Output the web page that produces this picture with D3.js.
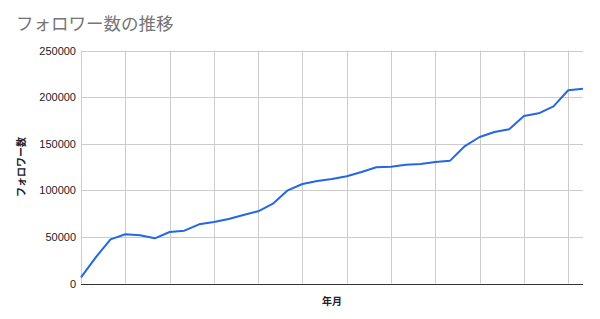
<!DOCTYPE html>
<html>
<head>
<meta charset="utf-8">
<script src="https://cdn.jsdelivr.net/npm/d3@7"></script>
<style>
  body { margin: 0; background: #fff; }
  text { font-family: Arial, "Liberation Sans", "Noto Sans CJK JP", sans-serif; }
</style>
</head>
<body>
<svg width="600" height="319"></svg>
<script>
// follower counts, one point per month (the month labels are hidden in the chart)
var followers = [6500, 28100, 47400, 52800, 51700, 48500, 55300, 56700, 63500, 66000,
    69200, 73500, 77500, 85600, 100000, 106800, 110000, 112100, 115000, 119600,
    124700, 125300, 127500, 128200, 130400, 131800, 147500, 157200, 162500, 165400,
    179700, 182600, 190100, 207300, 209000];
var yTicks = [0, 50000, 100000, 150000, 200000, 250000];
var title = "フォロワー数の推移";
var yTitle = "フォロワー数";
var xTitle = "年月";

var svg = d3.select("svg"),
    margin = { left: 81, right: 17, top: 50.5, bottom: 35.5 },
    width = +svg.attr("width"),
    height = +svg.attr("height");

var x = d3.scaleLinear()
    .domain([0, followers.length - 1])
    .range([margin.left, width - margin.right]);

var y = d3.scaleLinear()
    .domain([0, 250000])
    .range([height - margin.bottom, margin.top]);

svg.append("text")
    .attr("x", 16).attr("y", 30)
    .attr("font-size", 17.5)
    .attr("fill", "#757575")
    .text(title);

// horizontal grid
svg.append("g")
    .selectAll("line")
    .data(yTicks)
    .enter().append("line")
    .attr("x1", margin.left).attr("x2", width - margin.right)
    .attr("y1", function (d) { return Math.round(y(d)) + 0.5; })
    .attr("y2", function (d) { return Math.round(y(d)) + 0.5; })
    .attr("stroke", "#cccccc");

// vertical grid, every third month
var vGrid = d3.range(0, followers.length, 3);
svg.append("g")
    .selectAll("line")
    .data(vGrid)
    .enter().append("line")
    .attr("x1", function (d) { return Math.round(x(d)) + 0.5; })
    .attr("x2", function (d) { return Math.round(x(d)) + 0.5; })
    .attr("y1", y(250000)).attr("y2", y(0))
    .attr("stroke", "#cccccc");

var yAxis = svg.append("g")
    .attr("transform", "translate(" + (margin.left - 5) + ",0)")
    .call(d3.axisLeft(y).tickValues(yTicks).tickFormat(d3.format("d")).tickSize(0).tickPadding(0));
yAxis.select(".domain").remove();
yAxis.selectAll("text")
    .attr("font-size", 11)
    .attr("fill", "#222")
    .style("font-family", "Arial, 'Liberation Sans', sans-serif");

// baseline
svg.append("line")
    .attr("x1", margin.left).attr("x2", width - margin.right)
    .attr("y1", Math.round(y(0)) + 0.5).attr("y2", Math.round(y(0)) + 0.5)
    .attr("stroke", "#333");

var line = d3.line()
    .x(function (d, i) { return x(i); })
    .y(function (d) { return y(d); });

svg.append("path")
    .datum(followers)
    .attr("fill", "none")
    .attr("stroke", "#2367e6")
    .attr("stroke-width", 2)
    .attr("stroke-linejoin", "round")
    .attr("d", line);

svg.append("text")
    .attr("transform", "translate(25," + ((margin.top + height - margin.bottom) / 2) + ") rotate(-90)")
    .attr("text-anchor", "middle")
    .attr("font-size", 10)
    .attr("font-weight", "bold")
    .attr("fill", "#222")
    .text(yTitle);

svg.append("text")
    .attr("x", (margin.left + width - margin.right) / 2)
    .attr("y", 305)
    .attr("text-anchor", "middle")
    .attr("font-size", 10)
    .attr("font-weight", "bold")
    .attr("fill", "#222")
    .text(xTitle);
</script>
</body>
</html>
